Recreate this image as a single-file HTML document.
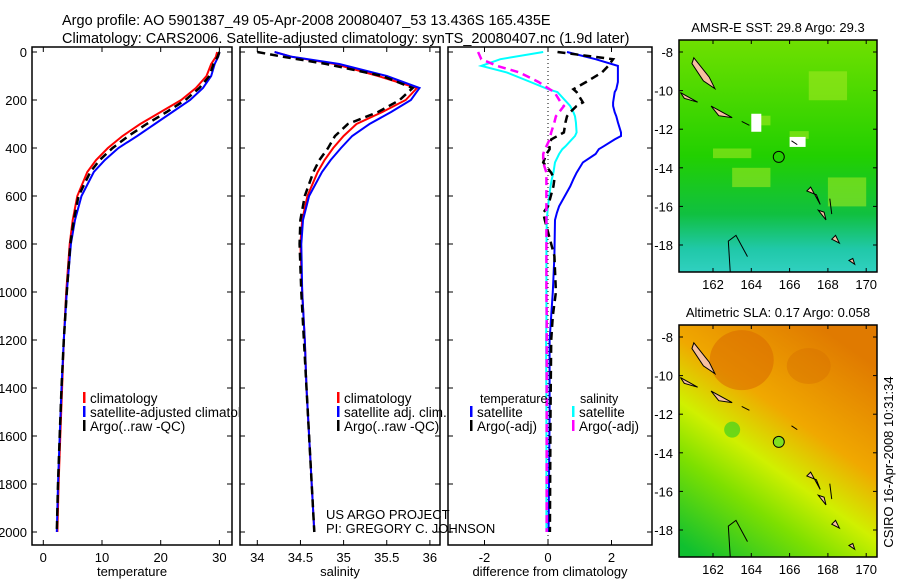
<!DOCTYPE html>
<html><head><meta charset="utf-8"><style>
body{margin:0;background:#fff;}
svg text{font-family:"Liberation Sans",sans-serif;fill:#000;}
</style></head><body>
<svg id="fig" width="900" height="580" viewBox="0 0 900 580" xmlns="http://www.w3.org/2000/svg">
<defs>
<linearGradient id="sstg" x1="0" y1="0" x2="0" y2="1">
<stop offset="0" stop-color="#6fe000"/><stop offset="0.5" stop-color="#22d000"/><stop offset="0.75" stop-color="#10c040"/><stop offset="0.9" stop-color="#20c8a8"/><stop offset="1" stop-color="#30d0c0"/></linearGradient>
<linearGradient id="slag" x1="0.7" y1="0" x2="0.1" y2="1">
<stop offset="0" stop-color="#e07a00"/><stop offset="0.35" stop-color="#f0a800"/><stop offset="0.55" stop-color="#d0f000"/><stop offset="0.72" stop-color="#7ee000"/><stop offset="1" stop-color="#10c030"/></linearGradient>
<clipPath id="c0"><rect x="32" y="47" width="207" height="498"/></clipPath>
<clipPath id="c1"><rect x="240" y="47" width="300" height="498"/></clipPath>
<clipPath id="c2"><rect x="448" y="47" width="204" height="498"/></clipPath>
</defs>
<g id="root"></g>
</svg>
<script>
// ---- data ----
const depths=[0,20,50,100,150,200,250,300,350,400,450,500,600,700,800,1000,1200,1400,1600,1800,2000];
const tempClim=[29.6,29.4,28.6,27.8,26,23.5,20,16.5,13.5,11,9,7.5,5.8,5,4.5,3.9,3.5,3.2,2.9,2.6,2.4];
const tempSat=[30,29.8,29.2,28.6,27.2,25,22,19,16,12.8,10.5,8.6,6.5,5.4,4.7,4,3.5,3.1,2.8,2.5,2.3];
const tempArgo=[30,29.7,29,28.3,26.6,24.2,21,17.6,14.5,11.8,9.6,8,6,5.2,4.6,4,3.5,3.1,2.8,2.5,2.3];
const salClim=[34.2,34.4,34.9,35.4,35.85,35.72,35.45,35.15,35.0,34.88,34.78,34.7,34.58,34.52,34.5,34.52,34.55,34.57,34.6,34.63,34.66];
const salSat=[34.2,34.4,34.95,35.5,35.88,35.78,35.55,35.3,35.1,34.97,34.85,34.75,34.6,34.53,34.51,34.52,34.55,34.57,34.6,34.63,34.66];
const salArgo=[34.0,34.3,34.8,35.45,35.8,35.65,35.4,35.05,34.9,34.82,34.72,34.65,34.55,34.5,34.49,34.51,34.54,34.57,34.6,34.63,34.66];
const diffDepths=[0,30,58,85,125,155,167,210,225,251,268,293,335,350,364,393,405,425,460,503,530,560,643,670,700,850,1000,1100,1200,1500,2000];
const dTempSat=[0.6,1.5,2.2,2.2,2.2,2.15,2.1,2.05,2.05,2.1,2.15,2.2,2.3,2.3,2.1,1.75,1.6,1.5,1.1,0.9,0.8,0.7,0.35,0.28,0.22,0.2,0.15,0.1,0.05,0.05,0.02];
const dSalSat=[-0.15,-1.5,-2.1,-1.3,-0.55,0.0,0.3,0.6,0.7,0.8,0.85,0.88,0.9,0.85,0.75,0.55,0.45,0.35,0.22,0.17,0.12,0.08,0,-0.02,-0.04,-0.05,-0.05,-0.05,-0.06,-0.05,-0.05];
const dTempArgo=[0.3,2.05,1.9,1.7,1.2,0.8,0.9,1.1,0.9,0.7,0.6,0.55,0.5,0.3,0.1,0.05,0.05,-0.05,-0.15,0.1,0.2,0.17,0,-0.15,-0.1,0.2,0.25,0.15,0.1,0.08,0.06];
const dSalArgo=[-2.2,-2.1,-1.6,-0.9,-0.3,0.05,0.2,0.4,0.5,0.35,0.25,0.2,0.1,0.08,0.05,-0.05,-0.1,-0.15,-0.15,-0.05,-0.05,-0.05,-0.05,-0.05,-0.05,-0.05,-0.05,-0.04,-0.04,-0.04,-0.04];
const depthTicks=[0,200,400,600,800,1000,1200,1400,1600,1800,2000];
const tempTicks=[0,10,20,30];
const salTicks=[34,34.5,35,35.5,36];
const diffTicks=[-2,0,2];
const lonTicks=[162,164,166,168,170];
const latTicks=[-8,-10,-12,-14,-16,-18];

const NS="http://www.w3.org/2000/svg";
const root=document.getElementById('root');
function mk(tag,at,parent){const e=document.createElementNS(NS,tag);for(const k in at)e.setAttribute(k,at[k]);(parent||root).appendChild(e);return e;}
function txt(x,y,s,size,anchor,parent){const t=mk('text',{x:x,y:y,'font-size':size,'text-anchor':anchor||'start'},parent);t.textContent=s;return t;}
const yD=d=>52+d*0.24;
const panels=[
 {x0:32,x1:232,sc:v=>43.3+(v)*5.87,ticks:tempTicks,label:'temperature',name:'temperature-panel'},
 {x0:240,x1:440,sc:v=>257.3+(v-34)*86.3,ticks:salTicks,label:'salinity',name:'salinity-panel'},
 {x0:448,x1:652,sc:v=>548+v*31.75,ticks:diffTicks,label:'difference from climatology',name:'difference-panel'}];
panels.forEach((p,i)=>{
 const g=mk('g',{});
 
 
 mk('rect',{x:p.x0,y:47,width:p.x1-p.x0,height:498,fill:'none',stroke:'#000','stroke-width':1.5},g);
 depthTicks.forEach(d=>{mk('line',{x1:p.x0,x2:p.x0+5,y1:yD(d),y2:yD(d),stroke:'#000'},g);mk('line',{x1:p.x1-5,x2:p.x1,y1:yD(d),y2:yD(d),stroke:'#000'},g);
  if(i==0){const t=txt(27,yD(d)+5,String(d),13,'end',g);}});
 p.ticks.forEach(v=>{const x=p.sc(v);mk('line',{x1:x,x2:x,y1:545,y2:540,stroke:'#000'},g);mk('line',{x1:x,x2:x,y1:47,y2:52,stroke:'#000'},g);
  const t=txt(x,562,String(v),13,'middle',g);});
 const t=txt((p.x0+p.x1)/2,576,p.label,13,'middle',g);
});
function line(xs,ds,sc,color,w,dash,name){
 const pts=xs.map((v,k)=>sc(v).toFixed(1)+','+yD(ds[k]).toFixed(1)).join(' ');
 const e=mk('polyline',{points:pts,fill:'none',stroke:color,'stroke-width':w,'stroke-dasharray':dash||'none'});
 
 
}
const P=panels;
line(tempClim,depths,P[0].sc,'#f00',2,null,'temperature-climatology-line');
line(tempSat,depths,P[0].sc,'#00f',2,null,'temperature-satellite-line');
line(tempArgo,depths,P[0].sc,'#000',2.5,'8,5','temperature-argo-line');
line(salClim,depths,P[1].sc,'#f00',2,null,'salinity-climatology-line');
line(salSat,depths,P[1].sc,'#00f',2,null,'salinity-satellite-line');
line(salArgo,depths,P[1].sc,'#000',2.5,'8,5','salinity-argo-line');
const zl=mk('line',{x1:548,x2:548,y1:47,y2:545,stroke:'#000','stroke-dasharray':'1,3'});

line(dTempSat,diffDepths,P[2].sc,'#00f',2,null,'temp-diff-satellite-line');
line(dSalSat,diffDepths,P[2].sc,'#0ff',2,null,'sal-diff-satellite-line');
line(dTempArgo,diffDepths,P[2].sc,'#000',2.5,'8,5','temp-diff-argo-line');
line(dSalArgo,diffDepths,P[2].sc,'#f0f',2.5,'8,5','sal-diff-argo-line');
const cg=[0,1,2].map(i=>mk('g',{'clip-path':'url(#c'+i+')'}));
function legend(x,y,color,s,name,par){const g=mk('g',{},par);
 mk('rect',{x:x,y:y-11,width:2.5,height:11,fill:color},g);txt(x+7,y,s,13.5,'start',g);}
legend(83,403,'#f00','climatology','legend-climatology',cg[0]);
legend(83,417,'#00f','satellite-adjusted climatology','legend-satellite',cg[0]);
legend(83,431,'#000','Argo(..raw -QC)','legend-argo',cg[0]);
legend(337,403,'#f00','climatology','legend-sal-climatology',cg[1]);
legend(337,417,'#00f','satellite adj. clim.','legend-sal-satellite',cg[1]);
legend(337,431,'#000','Argo(..raw -QC)','legend-sal-argo',cg[1]);
txt(480,403,'temperature',12.5,'start',cg[2]);txt(580,403,'salinity',12.5,'start',cg[2]);
legend(470,417,'#00f','satellite','legend-diff-temp-sat',cg[2]);
legend(470,431,'#000','Argo(-adj)','legend-diff-temp-argo',cg[2]);
legend(572,417,'#0ff','satellite','legend-diff-sal-sat',cg[2]);
legend(572,431,'#f0f','Argo(-adj)','legend-diff-sal-argo',cg[2]);
txt(326,519,'US ARGO PROJECT',13,'start',cg[1]);txt(326,533,'PI: GREGORY C. JOHNSON',13,'start',cg[1]);
const t1=txt(62,25,'Argo profile: AO 5901387_49 05-Apr-2008 20080407_53 13.436S 165.435E',14.5);

const t2=txt(62,43,'Climatology: CARS2006. Satellite-adjusted climatology: synTS_20080407.nc (1.9d later)',14.5);

// maps
const isl=[[[-8.3,161.0],[-9.3,161.8],[-9.9,162.1],[-9.5,161.5],[-8.6,160.9]],[[-10.1,160.3],[-10.6,161.2],[-10.4,160.5]],[[-10.8,161.9],[-11.4,163.0],[-11.3,162.3]],[[-12.6,166.1],[-12.8,166.4]],[[-15.0,167.1],[-15.9,167.6],[-15.4,167.4],[-15.2,166.9]],[[-16.2,167.5],[-16.7,167.9],[-16.3,167.8]],[[-17.7,168.2],[-17.9,168.6],[-17.5,168.4]],[[-15.6,168.1],[-16.4,168.2]],[[-18.8,169.1],[-19.0,169.4],[-18.7,169.3]],[[-11.6,163.5],[-11.8,163.9]]];
function map(top,grad,title,name){
 const g=mk('g',{});
 const x0=679,x1=877,y0=top,y1=top+232;
 const lx=l=>713+(l-162)*19.15, ly=a=>(top+12)+(-8-a)*19.3;
 mk('rect',{x:x0,y:y0,width:x1-x0,height:y1-y0,fill:'url(#'+grad+')'},g);
 if(grad=='sstg'){[[162,164,-13.5,-13],[164,165,-11.8,-11.3],[166,167,-12.5,-12.1],[167,169,-10.5,-9],[168,170,-16,-14.5],[163,165,-15,-14]].forEach(r=>mk('rect',{x:lx(r[0]),y:ly(r[3]),width:lx(r[1])-lx(r[0]),height:ly(r[2])-ly(r[3]),fill:'#9fe820',opacity:0.6},g));
  mk('rect',{x:lx(164),y:ly(-11.2),width:10,height:18,fill:'#fff'},g);mk('rect',{x:lx(166),y:ly(-12.4),width:16,height:10,fill:'#fff'},g);}
 else{mk('ellipse',{cx:lx(163.5),cy:ly(-9.2),rx:32,ry:30,fill:'#d86a00',opacity:0.55},g);mk('ellipse',{cx:lx(167),cy:ly(-9.5),rx:22,ry:18,fill:'#d87000',opacity:0.45},g);mk('circle',{cx:lx(163),cy:ly(-12.8),r:8,fill:'#40d020',opacity:0.7},g);}
 isl.forEach(p=>mk('polygon',{points:p.map(q=>lx(q[1])+','+ly(q[0])).join(' '),fill:'#f6c0a0',stroke:'#000','stroke-width':1},g));
 mk('path',{d:`M${lx(162.9)} ${y1} L${lx(162.8)} ${ly(-17.8)} L${lx(163.2)} ${ly(-17.5)} L${lx(163.8)} ${ly(-18.6)}`,fill:'none',stroke:'#000'},g);
 mk('circle',{cx:lx(165.435),cy:ly(-13.436),r:5.5,fill:grad=='slag'?'#80e020':'none',stroke:'#000'},g);
 mk('rect',{x:x0,y:y0,width:x1-x0,height:y1-y0,fill:'none',stroke:'#000','stroke-width':1.5},g);
 lonTicks.forEach(l=>{mk('line',{x1:lx(l),x2:lx(l),y1:y1,y2:y1-4,stroke:'#000'},g);mk('line',{x1:lx(l),x2:lx(l),y1:y0,y2:y0+4,stroke:'#000'},g);txt(lx(l),y1+17,String(l),13,'middle',g);});
 latTicks.forEach(a=>{mk('line',{x1:x0,x2:x0+4,y1:ly(a),y2:ly(a),stroke:'#000'},g);mk('line',{x1:x1-4,x2:x1,y1:ly(a),y2:ly(a),stroke:'#000'},g);txt(x0-6,ly(a)+5,String(a),13,'end',g);});
 txt(778,top-8,title,13,'middle',g);
}
map(40,'sstg','AMSR-E SST: 29.8 Argo: 29.3','sst-map');
map(325,'slag','Altimetric SLA: 0.17 Argo: 0.058','sla-map');
const cs=txt(0,0,'CSIRO 16-Apr-2008 10:31:34',13,'middle');
cs.setAttribute('transform','translate(893,462) rotate(-90)');

</script>
</body></html>
